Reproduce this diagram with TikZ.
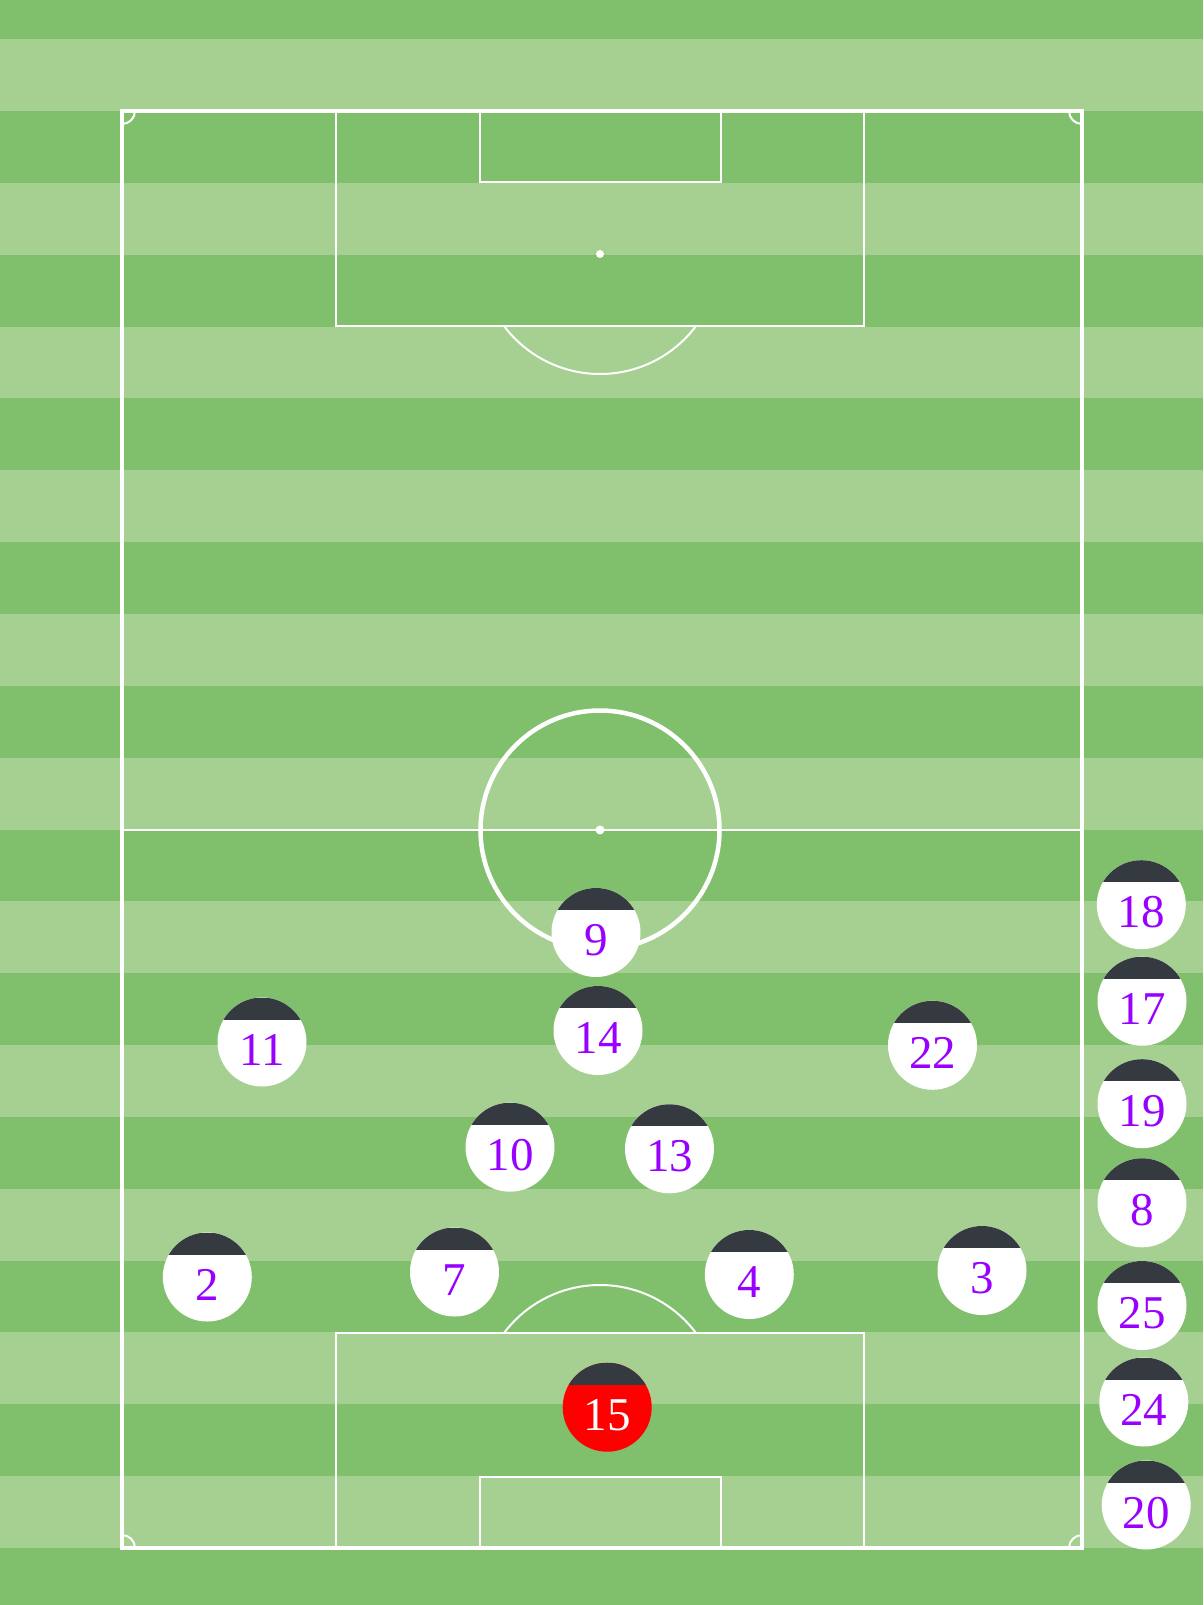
\documentclass[tikz,border=0pt]{standalone}
\usepackage{fontspec}
\setmainfont{Liberation Serif}
\usetikzlibrary{calc}
\definecolor{turfdark}{HTML}{80C06C}
\definecolor{turflight}{HTML}{A6D092}
\definecolor{shirtcap}{HTML}{343A40}
\definecolor{numpurple}{HTML}{9900FF}

\begin{document}
\begin{tikzpicture}[
	x=1pt, y=-1pt,
	pitchline/.style={draw=white, line width=2pt},
	spot/.style={fill=white},
	player/.style={
		circle, fill=white, minimum size=89pt, inner sep=0pt,
		text=numpurple, font=\fontsize{47}{50}\selectfont,
		text height=46pt, text depth=0pt,
		path picture={\fill[shirtcap] (path picture bounding box.north west) rectangle ([yshift=-22pt]path picture bounding box.north east);}
	},
	keeper/.style={player, fill=red, text=white}
	]
	
	\useasboundingbox (0,0) rectangle (1203,1605);
	
	% Striped turf
	\fill[turflight] (0,0) rectangle (1203,1605);
	\foreach \k in {-1,...,10}
		\fill[turfdark] (0,{111+143.7*\k}) rectangle (1203,{111+143.7*\k+71.85});
	
	% --- Pitch markings ---
	\draw[pitchline, line width=4pt] (122,111) rectangle (1082,1548);
	\draw[pitchline, line width=2.5pt] (122,830) -- (1082,830);
	\draw[pitchline, line width=4.5pt] (600,830) circle[radius=119.5pt];
	\fill[spot] (600,830) circle[radius=4.5pt];
	
	% Top end
	\draw[pitchline] (336,111) rectangle (864,325.6);
	\draw[pitchline] (479.5,111) rectangle (720.5,182.5);
	\fill[spot] (600,254) circle[radius=4pt];
	\begin{scope}
		\clip (0,325.6) rectangle (1203,500);
		\draw[pitchline] (600,254) circle[radius=120pt];
	\end{scope}
	
	% Bottom end
	\draw[pitchline] (336,1333.4) rectangle (864,1548);
	\draw[pitchline] (479.5,1476.5) rectangle (720.5,1548);
	\fill[spot] (600,1405) circle[radius=4pt];
	\begin{scope}
		\clip (0,1333.4) rectangle (1203,1150);
		\draw[pitchline] (600,1405) circle[radius=120pt];
	\end{scope}
	
	% Corner arcs
	\begin{scope}
		\clip (122,111) rectangle (1082,1548);
		\draw[pitchline] (122,111) circle[radius=13pt];
		\draw[pitchline] (1082,111) circle[radius=13pt];
		\draw[pitchline] (122,1548) circle[radius=13pt];
		\draw[pitchline] (1082,1548) circle[radius=13pt];
	\end{scope}
	
	% --- Starting eleven ---
	\node[player] (p9)  at (596,932.5)    {9};
	\node[player] (p11) at (262,1042)     {11};
	\node[player] (p14) at (598,1030.5)   {14};
	\node[player] (p22) at (932.5,1045.3) {22};
	\node[player] (p10) at (510,1147.2)   {10};
	\node[player] (p13) at (669.5,1148.8) {13};
	\node[player] (p2)  at (207.3,1277)   {2};
	\node[player] (p7)  at (454.5,1272)   {7};
	\node[player] (p4)  at (749.3,1274.5) {4};
	\node[player] (p3)  at (982,1270.5)   {3};
	\node[keeper] (p15) at (607.2,1407.2) {15};
	
	% --- Bench ---
	\node[player] (s18) at (1141.3,904.7) {18};
	\node[player] (s17) at (1142,1001.2)  {17};
	\node[player] (s19) at (1142,1103.7)  {19};
	\node[player] (s8)  at (1142,1202.8)  {8};
	\node[player] (s25) at (1142,1305.5)  {25};
	\node[player] (s24) at (1143.8,1402)  {24};
	\node[player] (s20) at (1146.2,1505)  {20};
\end{tikzpicture}
\end{document}
